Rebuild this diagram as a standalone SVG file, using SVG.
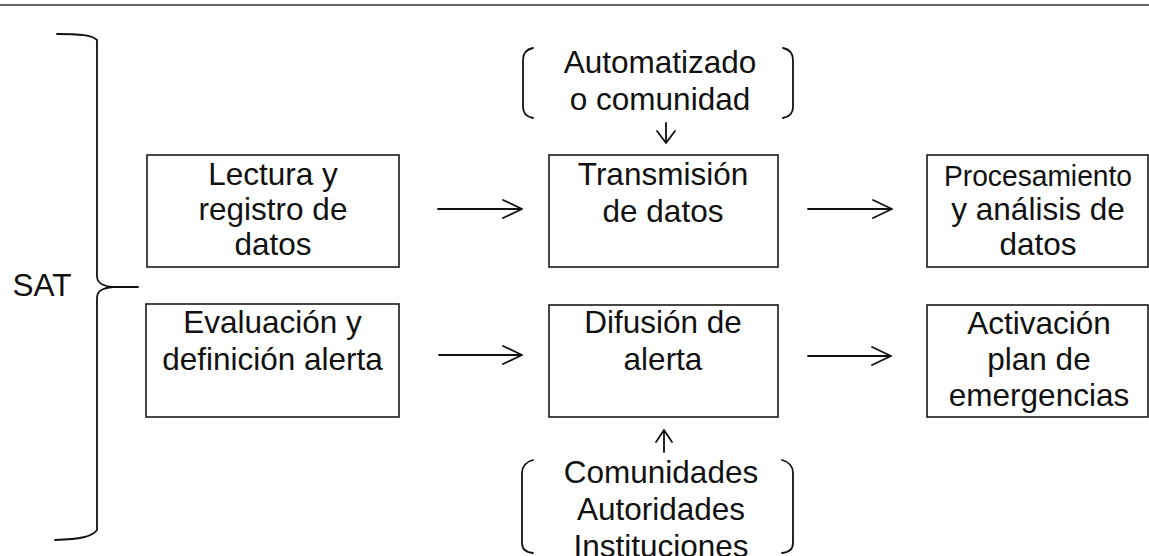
<svg xmlns="http://www.w3.org/2000/svg" width="1149" height="556" viewBox="0 0 1149 556">
<style>
  .box { fill: #fff; stroke: #1a1a1a; stroke-width: 1.6; }
  .ln { fill: none; stroke: #111; stroke-width: 1.8; stroke-linecap: round; stroke-linejoin: round; }
  .t { font-family: "Liberation Sans", Arial, sans-serif; font-size: 31.5px; fill: #111; text-anchor: middle; }
</style>
<rect width="1149" height="556" fill="#fff"/>
<line x1="0" y1="5" x2="1149" y2="5" stroke="#333" stroke-width="1.5"/>

<g id="sat">
  <path class="ln" d="M57,34 C80,34 92,35 97,40 L97,276 C97,283 102,286 113,287 L138,287 M113,287 C102,288 97,291 97,298 L97,530 C92,537 80,539 55,540"/>
  <text class="t" x="42" y="296">SAT</text>
</g>

<g id="n-lectura">
  <rect class="box" x="147" y="155" width="252" height="112"/>
  <text class="t" x="273" y="185">Lectura y</text>
  <text class="t" x="273" y="220">registro de</text>
  <text class="t" x="273" y="255">datos</text>
</g>
<g id="n-transmision">
  <rect class="box" x="549" y="155" width="229" height="112"/>
  <text class="t" x="663" y="185">Transmisión</text>
  <text class="t" x="663" y="222">de datos</text>
</g>
<g id="n-procesamiento">
  <rect class="box" x="927" y="155" width="221" height="112"/>
  <text class="t" x="1038" y="186" style="font-size:29px" textLength="188" lengthAdjust="spacingAndGlyphs">Procesamiento</text>
  <text class="t" x="1038" y="220">y análisis de</text>
  <text class="t" x="1038" y="255">datos</text>
</g>
<g id="n-evaluacion">
  <rect class="box" x="146" y="304" width="253" height="113"/>
  <text class="t" x="272.5" y="333">Evaluación y</text>
  <text class="t" x="272.5" y="370">definición alerta</text>
</g>
<g id="n-difusion">
  <rect class="box" x="549" y="305" width="229" height="112"/>
  <text class="t" x="663" y="333">Difusión de</text>
  <text class="t" x="663" y="370">alerta</text>
</g>
<g id="n-activacion">
  <rect class="box" x="927" y="305" width="221" height="112"/>
  <text class="t" x="1039" y="334">Activación</text>
  <text class="t" x="1039" y="370">plan de</text>
  <text class="t" x="1039" y="406">emergencias</text>
</g>

<g id="n-automatizado">
  <path class="ln" d="M533,48 Q523,50 523,60 L523,107 Q523,116 533,118"/>
  <path class="ln" d="M783,48 Q793,50 793,60 L793,107 Q793,116 783,118"/>
  <text class="t" x="660" y="73">Automatizado</text>
  <text class="t" x="660" y="110">o comunidad</text>
</g>
<g id="n-comunidades">
  <path class="ln" d="M533,460 Q522,463 522,473 L522,543 Q522,552 533,553"/>
  <path class="ln" d="M782,460 Q793,463 793,473 L793,543 Q793,552 782,553"/>
  <text class="t" x="661" y="483">Comunidades</text>
  <text class="t" x="661" y="520">Autoridades</text>
  <text class="t" x="661" y="557">Instituciones</text>
</g>

<g id="connectors">
  <path class="ln" d="M438,209 L522,209 M503,200 L522,209 L503,218"/>
  <path class="ln" d="M808,209 L892,209 M873,200 L892,209 L873,218"/>
  <path class="ln" d="M439,355 L522,355 M503,346 L522,355 L503,364"/>
  <path class="ln" d="M808,356 L891,356 M872,347 L891,356 L872,365"/>
  <path class="ln" d="M666,123 L666,143 M657,131 L666,143 L675,131"/>
  <path class="ln" d="M664,452 L664,430 M656,442 L664,430 L672,442"/>
</g>
</svg>
